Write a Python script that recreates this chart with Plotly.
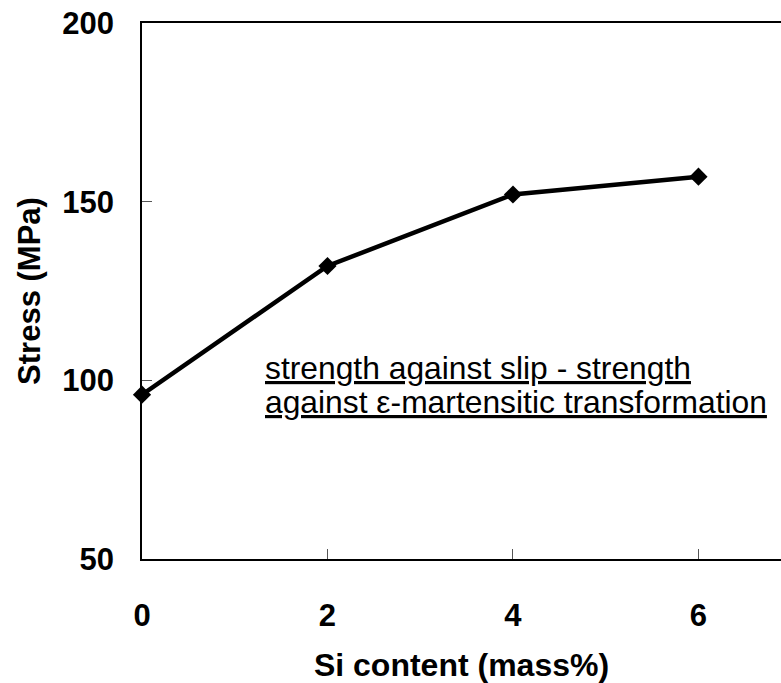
import plotly.graph_objects as go

si_content = [0, 2, 4, 6]
stress = [96, 132, 152, 157]
x_ticks = [0, 2, 4, 6]
y_ticks = [50, 100, 150, 200]
note_lines = ["strength against slip - strength",
              "against ε-martensitic transformation"]

FONT = "Liberation Sans, Arial, sans-serif"

fig = go.Figure()
fig.add_trace(go.Scatter(
    x=si_content, y=stress, mode="lines+markers",
    line=dict(color="black", width=4.5),
    marker=dict(symbol="diamond", size=14, color="black"),
    showlegend=False, cliponaxis=False,
))

note_y = [103.5, 93.8]
for txt, yy in zip(note_lines, note_y):
    fig.add_annotation(
        x=1.30, y=yy, xref="x", yref="y", text="<u>" + txt + "</u>",
        showarrow=False, xanchor="left", yanchor="middle",
        font=dict(family=FONT, size=31.8, color="black"),
    )

fig.update_layout(
    width=781, height=683,
    margin=dict(l=142, r=0, t=23, b=124),
    paper_bgcolor="white", plot_bgcolor="white",
    font=dict(family=FONT, color="black"),
)
fig.update_xaxes(
    range=[0, 6.89], tickvals=x_ticks, ticktext=[str(v) for v in x_ticks],
    showgrid=False, zeroline=False,
    showline=True, linecolor="black", linewidth=1.5, mirror=True,
    ticks="inside", ticklen=10, tickwidth=1, tickcolor="#555",
    tickfont=dict(family=FONT, size=31, color="black", weight="bold"),
    ticklabelstandoff=28,
    title=dict(text="<b>Si content (mass%)</b>", standoff=23,
               font=dict(family=FONT, size=32, color="black")),
)
fig.update_yaxes(
    range=[50, 200], tickvals=y_ticks, ticktext=[str(v) for v in y_ticks],
    showgrid=False, zeroline=False,
    showline=True, linecolor="black", linewidth=1.5, mirror=False,
    ticks="inside", ticklen=10, tickwidth=1, tickcolor="#555",
    tickfont=dict(family=FONT, size=31, color="black", weight="bold"),
    ticklabelstandoff=20,
    title=dict(text="<b>Stress (MPa)</b>", standoff=12,
               font=dict(family=FONT, size=31, color="black")),
)

fig.write_html("out.html")
